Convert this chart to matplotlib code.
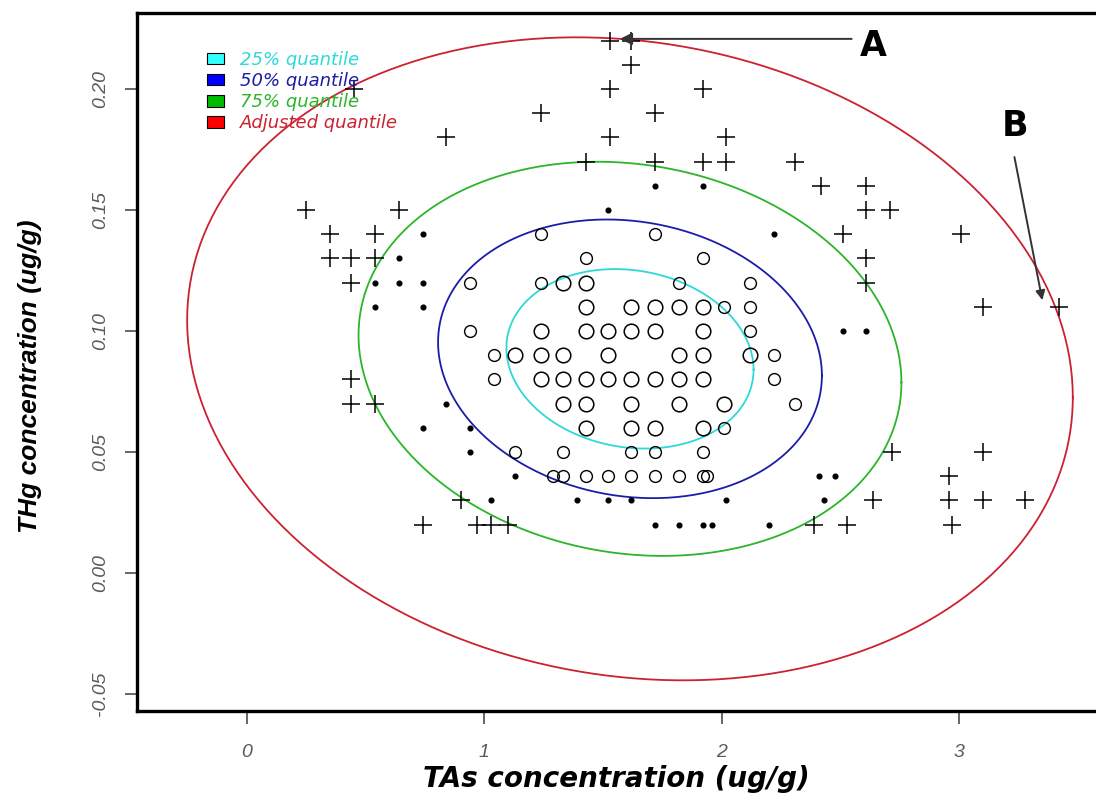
import matplotlib
matplotlib.use("Agg")
import matplotlib.pyplot as plt
from matplotlib.patches import Patch
import numpy as np

# points outside the 75% ellipse (plus signs)
plus_x = [1.53, 1.62, 1.62, 1.53, 1.92, 0.45, 1.24, 1.72, 0.84, 1.53, 2.02,
          1.43, 1.72, 1.92, 2.02, 2.31, 2.42, 2.61, 0.25, 0.64, 2.61, 2.71,
          0.35, 0.54, 2.51, 3.01, 0.35, 0.44, 0.54, 2.61, 0.44, 2.61, 3.10,
          3.42, 0.44, 0.44, 0.54, 2.72, 3.10, 2.96, 0.90, 2.64, 2.96, 3.10,
          3.28, 0.74, 0.97, 1.03, 1.10, 2.39, 2.53, 2.97]
plus_y = [0.22, 0.22, 0.21, 0.20, 0.20, 0.20, 0.19, 0.19, 0.18, 0.18, 0.18,
          0.17, 0.17, 0.17, 0.17, 0.17, 0.16, 0.16, 0.15, 0.15, 0.15, 0.15,
          0.14, 0.14, 0.14, 0.14, 0.13, 0.13, 0.13, 0.13, 0.12, 0.12, 0.11,
          0.11, 0.08, 0.07, 0.07, 0.05, 0.05, 0.04, 0.03, 0.03, 0.03, 0.03,
          0.03, 0.02, 0.02, 0.02, 0.02, 0.02, 0.02, 0.02]

# points between 50% and 75% (small dots)
dot_x = [1.72, 1.92, 1.52, 0.74, 2.22, 0.64, 0.54, 0.64, 0.74, 0.54, 0.74,
         2.51, 2.61, 0.84, 0.74, 0.94, 0.94, 1.13, 2.41, 2.48, 1.03, 1.39,
         1.52, 1.62, 2.02, 2.43, 1.72, 1.82, 1.92, 1.96, 2.20]
dot_y = [0.16, 0.16, 0.15, 0.14, 0.14, 0.13, 0.12, 0.12, 0.12, 0.11, 0.11,
         0.10, 0.10, 0.07, 0.06, 0.06, 0.05, 0.04, 0.04, 0.04, 0.03, 0.03,
         0.03, 0.03, 0.03, 0.03, 0.02, 0.02, 0.02, 0.02, 0.02]

# points between 25% and 50% (small circles)
ring_x = [1.24, 1.72, 1.43, 1.92, 0.94, 1.24, 1.82, 2.12, 2.01, 2.12, 0.94,
          2.12, 1.04, 2.22, 1.04, 2.22, 2.31, 2.01, 1.13, 1.33, 1.62, 1.72,
          1.92, 1.29, 1.33, 1.43, 1.52, 1.62, 1.72, 1.82, 1.92, 1.94]
ring_y = [0.14, 0.14, 0.13, 0.13, 0.12, 0.12, 0.12, 0.12, 0.11, 0.11, 0.10,
          0.10, 0.09, 0.09, 0.08, 0.08, 0.07, 0.06, 0.05, 0.05, 0.05, 0.05,
          0.05, 0.04, 0.04, 0.04, 0.04, 0.04, 0.04, 0.04, 0.04, 0.04]

# points inside 25% (larger circles)
core_x = [1.33, 1.43, 1.43, 1.62, 1.72, 1.82, 1.92, 1.24, 1.43, 1.52, 1.62,
          1.72, 1.92, 1.13, 1.24, 1.33, 1.52, 1.82, 1.92, 2.12, 1.24, 1.33,
          1.43, 1.52, 1.62, 1.72, 1.82, 1.92, 1.33, 1.43, 1.62, 1.82, 2.01,
          1.43, 1.62, 1.72, 1.92]
core_y = [0.12, 0.12, 0.11, 0.11, 0.11, 0.11, 0.11, 0.10, 0.10, 0.10, 0.10,
          0.10, 0.10, 0.09, 0.09, 0.09, 0.09, 0.09, 0.09, 0.09, 0.08, 0.08,
          0.08, 0.08, 0.08, 0.08, 0.08, 0.08, 0.07, 0.07, 0.07, 0.07, 0.07,
          0.06, 0.06, 0.06, 0.06]

# bivariate normal fit used for the quantile ellipses
center = [1.614, 0.0885]
sd_x, sd_y, rho = 0.687, 0.0489, -0.12
chi2_levels = [0.575, 1.386, 2.773, 7.38]
level_labels = ["25% quantile", "50% quantile", "75% quantile", "Adjusted quantile"]
level_colors = ["#2fd8d8", "#1c1cab", "#2bb52b", "#cc2130"]
legend_fill = ["#33ffff", "#0000ff", "#00bb00", "#ff0000"]

plt.rcParams['font.family'] = ['Liberation Sans', 'DejaVu Sans']

fig = plt.figure(figsize=(10.96, 8.01), dpi=100)
ax = fig.add_axes([0.125, 0.1124, 0.875, 0.8714])

cov = np.array([[sd_x ** 2, rho * sd_x * sd_y], [rho * sd_x * sd_y, sd_y ** 2]])
L = np.linalg.cholesky(cov)
t = np.linspace(0, 2 * np.pi, 400)
circle = np.vstack([np.cos(t), np.sin(t)])
for q, col in zip(chi2_levels, level_colors):
    pts = np.sqrt(q) * L @ circle
    ax.plot(center[0] + pts[0], center[1] + pts[1], color=col, lw=1.3)

ax.plot(plus_x, plus_y, '+', color='black', ms=13, mew=1.1, ls='none')
ax.plot(dot_x, dot_y, 'o', color='black', ms=3.4, ls='none')
ax.plot(ring_x, ring_y, 'o', mfc='none', mec='black', ms=8.5, mew=1.0, ls='none')
ax.plot(core_x, core_y, 'o', mfc='none', mec='black', ms=10.5, mew=1.1, ls='none')

# annotations A and B
ax.annotate('', xy=(1.56, 0.2207), xytext=(2.56, 0.2207),
            arrowprops=dict(arrowstyle='-|>', color='#333333', lw=1.4, mutation_scale=18))
ax.text(2.64, 0.2178, 'A', fontsize=25, fontweight='bold', ha='center', va='center',
        family='DejaVu Sans')
ax.annotate('', xy=(3.354, 0.1116), xytext=(3.232, 0.173),
            arrowprops=dict(arrowstyle='-|>', color='#333333', lw=1.4, mutation_scale=14))
ax.text(3.236, 0.1847, 'B', fontsize=25, fontweight='bold', ha='center', va='center',
        family='DejaVu Sans')

handles = [Patch(facecolor=c, edgecolor='black', lw=0.8) for c in legend_fill]
ax.legend(handles, level_labels, loc='upper left', bbox_to_anchor=(0.073, 0.946),
          frameon=False, handlelength=0.95, handleheight=0.6, handletextpad=0.85,
          labelspacing=0.18, borderpad=0, borderaxespad=0,
          labelcolor=level_colors,
          prop={'family': 'DejaVu Sans', 'style': 'italic', 'size': 13})

ax.set_xlim(-0.4636, 3.578)
ax.set_ylim(-0.0570, 0.2314)
ax.set_xticks([0, 1, 2, 3])
ax.set_yticks([-0.05, 0.0, 0.05, 0.10, 0.15, 0.20])
ax.set_yticklabels(['-0.05', '0.00', '0.05', '0.10', '0.15', '0.20'])
ax.tick_params(direction='out', length=9, width=1.3, colors='#5a5a5a', labelsize=14)
ax.tick_params(axis='x', pad=15)
ax.tick_params(axis='y', pad=11)
for lab in ax.get_xticklabels():
    lab.set_fontstyle('italic')
for lab in ax.get_yticklabels():
    lab.set_fontstyle('italic')
    lab.set_rotation(90)
    lab.set_va('center')

for side in ['left', 'bottom', 'top']:
    ax.spines[side].set_linewidth(2.4)
    ax.spines[side].set_color('black')
ax.spines['right'].set_visible(False)

ax.set_xlabel('TAs concentration (ug/g)', fontsize=20, fontweight='bold',
              fontstyle='italic', family='DejaVu Sans', labelpad=3)
ax.set_ylabel('THg concentration (ug/g)', fontsize=19, fontweight='bold',
              fontstyle='italic')
ax.yaxis.set_label_coords(-0.099, 0.48)

fig.savefig('out.png', dpi=100)
